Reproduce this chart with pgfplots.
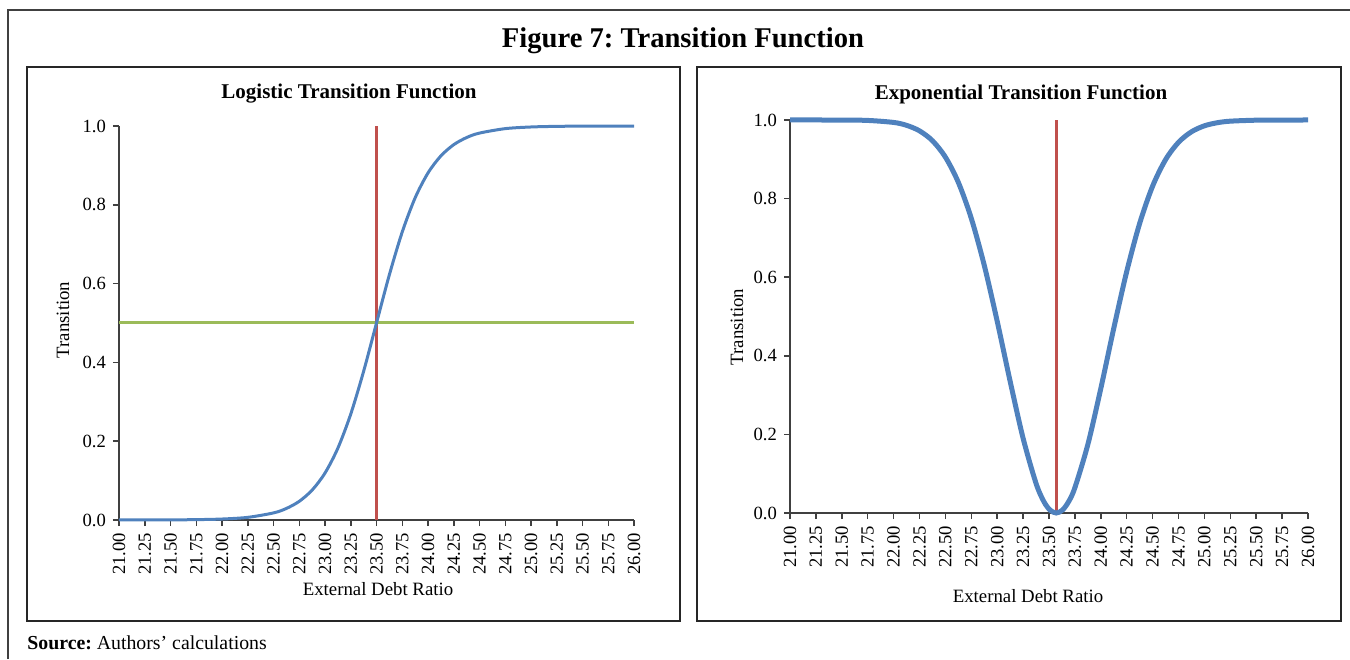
\documentclass[border=0pt]{standalone}
\usepackage{pgfplots}
\pgfplotsset{compat=1.18}
\usepackage{fontspec}
\setmainfont{Liberation Serif}
\definecolor{xblue}{HTML}{4F81BD}
\definecolor{xred}{HTML}{C0504D}
\definecolor{xgreen}{HTML}{9BBB59}
\definecolor{axgray}{HTML}{404040}
\frenchspacing
\begin{document}
\begin{tikzpicture}
\path[use as bounding box] (0pt,0pt) rectangle (675pt,329.5pt);
% outer frame
\draw[line width=1pt, color=axgray] (4pt,0pt) -- (4pt,324.5pt) -- (675pt,324.5pt);
% panel boxes
\draw[line width=0.8pt, color=black!85] (13.5pt,19pt) rectangle (340pt,296pt);
\draw[line width=0.8pt, color=black!85] (348.5pt,19pt) rectangle (670.5pt,296pt);
% titles
\node[font=\fontsize{14.3}{16}\selectfont\bfseries] at (341.5pt,309pt) {Figure 7: Transition Function};
\node[font=\fontsize{10.5}{12}\selectfont\bfseries] at (174.5pt,282.5pt) {Logistic Transition Function};
\node[font=\fontsize{10.5}{12}\selectfont\bfseries] at (510.5pt,282.5pt) {Exponential Transition Function};
\node[font=\fontsize{9.4}{11}\selectfont, rotate=90] at (31.5pt,169.5pt) {Transition};
\node[font=\fontsize{9.4}{11}\selectfont, rotate=90] at (368.5pt,166pt) {Transition};
\node[font=\fontsize{9.4}{11}\selectfont] at (189pt,35pt) {External Debt Ratio};
\node[font=\fontsize{9.4}{11}\selectfont] at (514pt,31.5pt) {External Debt Ratio};
\node[font=\fontsize{9.9}{11}\selectfont, anchor=west, inner xsep=0pt] at (13.5pt,8pt) {\textbf{Source:} Authors’ calculations};

\pgfplotsset{
  myaxis/.style={
    scale only axis,
    anchor=south west,
    xmin=21, xmax=26, ymin=0, ymax=1,
    axis x line=bottom, axis y line=left,
    axis line style={-, line width=0.75pt, color=axgray},
    tick style={line width=0.75pt, color=axgray},
    tick align=outside,
    major tick length=3pt,
    xtick={21,21.25,...,26.01},
    ytick={0,0.2,0.4,0.6,0.8,1.0},
    /pgf/number format/assume math mode=true,
    xticklabel style={rotate=90, anchor=east, font=\fontsize{9.3}{10}\selectfont,
      /pgf/number format/.cd, fixed, fixed zerofill, precision=2},
    yticklabel style={font=\fontsize{9.3}{10}\selectfont,
      /pgf/number format/.cd, fixed, fixed zerofill, precision=1},
    clip=false,
  }
}

\begin{axis}[myaxis, at={(59.5pt,69.5pt)}, width=257.5pt, height=197pt]
\addplot[color=xgreen, line width=1.5pt] coordinates {(21,0.5) (26,0.5)};
\addplot[color=xred, line width=1.5pt] coordinates {(23.5,0) (23.5,1.0)};
\addplot[color=xblue, line width=1.5pt, smooth] coordinates {
(21.00,0.00005) (21.25,0.00012) (21.50,0.00034) (21.75,0.00091) (22.00,0.00247)
(22.25,0.0067) (22.50,0.0180) (22.625,0.0293) (22.75,0.0474) (22.875,0.0759)
(23.00,0.1192) (23.125,0.1824) (23.25,0.2689) (23.375,0.3775) (23.50,0.5)
(23.625,0.6225) (23.75,0.7311) (23.875,0.8176) (24.00,0.8808) (24.125,0.9241)
(24.25,0.9526) (24.375,0.9707) (24.50,0.9820) (24.75,0.9933) (25.00,0.9975)
(25.25,0.9991) (25.50,0.9997) (25.75,0.9999) (26.00,0.99995)
};
\end{axis}

\begin{axis}[myaxis, at={(395pt,73pt)}, width=259pt, height=196.5pt]
\addplot[color=xred, line width=1.5pt] coordinates {(23.57,0) (23.57,1.0)};
\addplot[color=xblue, line width=2.5pt, smooth] coordinates {
(21.00,1.0) (21.25,1.0) (21.50,0.99985) (21.75,0.9989) (22.00,0.9938)
(22.125,0.9864) (22.25,0.9724) (22.375,0.9473) (22.50,0.9055) (22.625,0.8412)
(22.75,0.7497) (22.875,0.6303) (23.00,0.4879) (23.125,0.335) (23.25,0.1902)
(23.375,0.0753) (23.45,0.0292) (23.51,0.0074) (23.57,0.0) (23.63,0.0074)
(23.69,0.0292) (23.75,0.0645) (23.875,0.1744) (24.00,0.3167)
(24.125,0.4698) (24.25,0.6142) (24.375,0.7368) (24.50,0.8317) (24.625,0.8990)
(24.75,0.9432) (24.875,0.9700) (25.00,0.9852) (25.125,0.9931) (25.25,0.9970)
(25.50,0.9995) (25.75,0.9999) (26.00,1.0)
};
\end{axis}
\end{tikzpicture}
\end{document}
